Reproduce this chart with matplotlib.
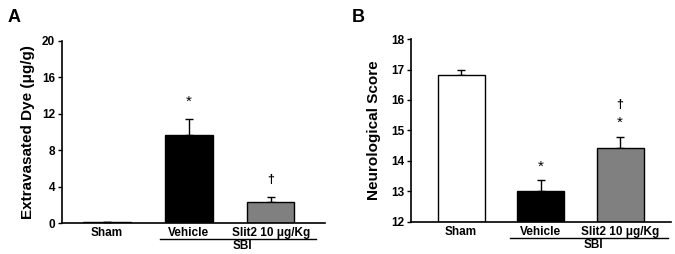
import matplotlib.pyplot as plt

plt.rcParams["font.family"] = ["Liberation Sans", "DejaVu Sans"]
plt.rcParams["font.weight"] = "bold"

groups = ["Sham", "Vehicle", "Slit2 10 \u03bcg/Kg"]
colors = ["white", "black", "#808080"]

dye_mean = [0.1, 9.7, 2.35]
dye_err = [0.0, 1.7, 0.45]
dye_marks = [[], ["*"], ["\u2020"]]

score_mean = [16.83, 13.0, 14.43]
score_err = [0.17, 0.37, 0.36]
score_marks = [[], ["*"], ["*", "\u2020"]]

fig = plt.figure(figsize=(6.75, 2.54), dpi=100)
axA = fig.add_axes([0.092, 0.122, 0.389, 0.718])
axB = fig.add_axes([0.609, 0.127, 0.385, 0.719])


def panel(ax, means, errs, marks, ylim, yticks, ylabel, xlim, width, mark_gap, mark_step, lpad):
    x = list(range(len(means)))
    ax.bar(x, [m - ylim[0] for m in means], bottom=ylim[0], width=width,
           color=colors, edgecolor="black", linewidth=1.0, zorder=2)
    ax.errorbar(x, means, yerr=[[0] * len(errs), errs], fmt="none",
                ecolor="black", elinewidth=1.0, capsize=3, capthick=1.0, zorder=1)
    for xi, m, e, sym in zip(x, means, errs, marks):
        for k, s in enumerate(sym):
            y = m + e + mark_gap + k * mark_step
            if s == "*":
                ax.text(xi, y, s, ha="center", va="center", fontsize=11,
                        fontweight="normal")
            else:
                ax.text(xi, y, s, ha="center", va="center", fontsize=9,
                        fontweight="bold")
    ax.set_ylim(*ylim)
    ax.set_xlim(*xlim)
    ax.set_yticks(yticks)
    ax.set_yticklabels([str(t) for t in yticks], fontsize=8.5, fontweight="bold")
    ax.set_xticks(x)
    ax.set_xticklabels(groups, fontsize=8.5, fontweight="bold")
    ax.tick_params(axis="x", length=0, pad=3)
    ax.tick_params(axis="y", direction="out", length=3, width=1, pad=2)
    for s in ["top", "right"]:
        ax.spines[s].set_visible(False)
    for s in ["left", "bottom"]:
        ax.spines[s].set_linewidth(1.2)
    ax.set_ylabel(ylabel, fontsize=11, fontweight="bold", labelpad=lpad)


panel(axA, dye_mean, dye_err, dye_marks, (0, 20), [0, 4, 8, 12, 16, 20],
      "Extravasated Dye (\u03bcg/g)", (-0.55, 2.66), 0.58, 1.9, 0, 5)
panel(axB, score_mean, score_err, score_marks, (12, 18), [12, 13, 14, 15, 16, 17, 18],
      "Neurological Score", (-0.63, 2.64), 0.59, 0.45, 0.6, 7)

# SBI bracket under Vehicle and Slit2
for ax, x0, x1 in [(axA, 0.65, 2.55), (axB, 0.62, 2.6)]:
    y_line = -0.088
    ax.plot([x0, x1], [y_line, y_line], transform=ax.get_xaxis_transform(),
            color="black", linewidth=1.0, clip_on=False)
    ax.text((x0 + x1) / 2 + 0.05, y_line - 0.005, "SBI", transform=ax.get_xaxis_transform(),
            ha="center", va="top", fontsize=8.5, fontweight="bold")

fig.text(0.011, 0.965, "A", fontsize=13, fontweight="bold", va="top")
fig.text(0.521, 0.965, "B", fontsize=13, fontweight="bold", va="top")

fig.savefig("out.png", dpi=100)
